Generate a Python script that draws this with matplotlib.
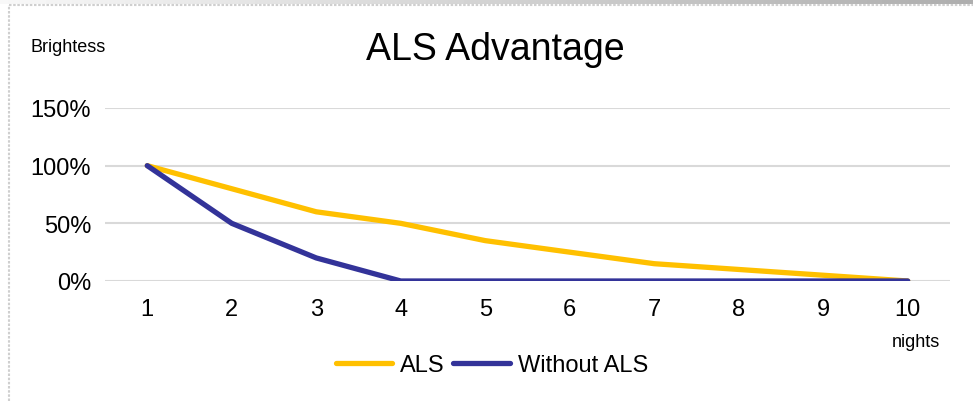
import numpy as np
import matplotlib.pyplot as plt
from matplotlib.lines import Line2D

plt.rcParams['font.family'] = ['Liberation Sans', 'DejaVu Sans']

nights = [1, 2, 3, 4, 5, 6, 7, 8, 9, 10]
als = [100, 80, 60, 50, 35, 25, 15, 10, 5, 0]
without_als = [100, 50, 20, 0, 0, 0, 0, 0, 0, 0]
yticks = [0, 50, 100, 150]

fig = plt.figure(figsize=(9.73, 4.02), dpi=100)
ax = fig.add_axes([105 / 973, 1 - 282 / 402, 845 / 973, 173 / 402])

ax.plot(nights, als, color='#FFC000', lw=3.8, label='ALS', solid_capstyle='round', zorder=3)
ax.plot(nights, without_als, color='#333399', lw=3.8, label='Without ALS', solid_capstyle='round', zorder=4)

ax.set_xlim(0.5, 10.5)
ax.set_ylim(0, 150)
ax.set_yticks(yticks)
ax.set_yticklabels([f'{v}%' for v in yticks])
ax.set_xticks(nights)
ax.grid(axis='y', color='#D9D9D9', lw=1.5)
ax.set_axisbelow(True)
for s in ax.spines.values():
    s.set_visible(False)
ax.tick_params(length=0, labelsize=17, labelcolor='black')
ax.tick_params(axis='x', pad=12)
ax.tick_params(axis='y', pad=10)

fig.text(495 / 973, 1 - 50 / 402, 'ALS Advantage', fontsize=27, ha='center', va='center')
fig.text(30 / 973, 1 - 48 / 402, 'Brightess', fontsize=13, ha='left', va='center')
fig.text(916 / 973, 1 - 343 / 402, 'nights', fontsize=13, ha='center', va='center')

fig.legend(loc='center', bbox_to_anchor=(492 / 973, 1 - 366 / 402), ncol=2, frameon=False,
           fontsize=17, handlelength=2.4, handletextpad=0.35, columnspacing=0.35, borderaxespad=0)

# shadow band at the top and dotted frame
band = fig.add_axes([0, 1 - 5 / 402, 1, 5 / 402])
band.imshow(np.linspace(0.97, 0.68, 256).reshape(1, -1), cmap='gray', vmin=0, vmax=1, aspect='auto')
band.axis('off')
fig.add_artist(Line2D([9 / 973, 1], [1 - 6 / 402] * 2, transform=fig.transFigure,
                      color='#CFCFCF', lw=1.5, ls=(0, (1.2, 0.8))))
fig.add_artist(Line2D([9 / 973] * 2, [0, 1 - 6 / 402], transform=fig.transFigure,
                      color='#CFCFCF', lw=1.5, ls=(0, (1.2, 0.8))))

fig.savefig('out.png', dpi=100)
